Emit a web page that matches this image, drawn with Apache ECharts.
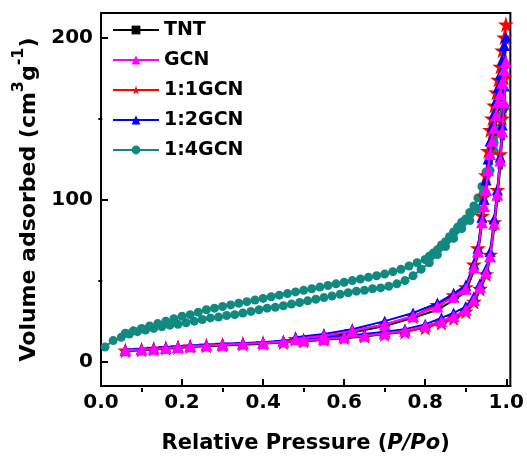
<!DOCTYPE html>
<html>
<head>
<meta charset="utf-8">
<script src="https://cdn.jsdelivr.net/npm/echarts@6/dist/echarts.min.js"></script>
<style>html,body{margin:0;padding:0;background:#fff}#c{width:527px;height:459px}</style>
</head>
<body>
<div id="c"></div>
<script>
// ---- data ----
var seriesNames = ['TNT', 'GCN', '1:1GCN', '1:2GCN', '1:4GCN'];
var xMajorTicks = [0, 0.2, 0.4, 0.6, 0.8, 1.0];
var xMinorTicks = [0.1, 0.3, 0.5, 0.7, 0.9];
var yMajorTicks = [0, 100, 200];
var yMinorTicks = [50, 150];

// adsorption / desorption relative pressures shared by the four low-uptake samples
var adsP = [0.06,0.10,0.13,0.16,0.19,0.22,0.26,0.30,0.35,0.40,0.45,0.50,0.55,0.60,0.65,0.70,0.75,0.80,0.84,0.87,0.90,0.92,0.935,0.95,0.96,0.97,0.978,0.985,0.99,0.995,0.999];
var desP = [0.995,0.99,0.985,0.98,0.975,0.97,0.965,0.96,0.955,0.95,0.945,0.94,0.93,0.92,0.90,0.87,0.83,0.77,0.70,0.62,0.55,0.48];

var tntAds = [6.5,7,7.5,8,8.5,9,9.5,10,10.5,11,12,12.5,13.5,14.5,15.5,17,18.5,21,24,27,30,36,44,53,63,82,100,120,138,155,182];
var tntDes = [178,170,162,156,149,141,133,125,115,104,94,84,66,56,43,38,32,27,22,18,15.5,13.5];
var gcnAds = [7,7.5,8,8.5,9,9.5,10,10.5,11,11.5,12.5,13,14,15,16,17.5,19,22,25,28,32,38,46,55,65,85,103,124,142,160,185];
var gcnDes = [180,172,165,160,152,144,136,128,118,106,96,86,68,58,45,40,34,28,23,19,16,14];
var g11Ads = [7,7.5,8,8.5,9,9.5,10,10.5,11,11.5,12,13,14,15,16,17,18.5,21,24,27,31,37,45,54,66,86,106,128,150,175,208];
var g11Des = [200,192,182,174,166,158,150,143,130,115,102,90,70,60,46,41,35,28,23,19,16,14];
var g12Ads = [7.5,8,8.5,9,9.5,10,10.5,11,11.5,12,13,14,15,16,17,18.5,20,23,27,30,34,40,48,57,68,88,106,126,146,170,200];
var g12Des = [195,186,177,169,161,153,145,136,125,112,100,89,70,60,47,42,36,30,25,20,17,15];

var g14AdsP = [0.01,0.03,0.05,0.07,0.09,0.11,0.13,0.15,0.17,0.19,0.21,0.23,0.25,0.27,0.29,0.31,0.33,0.35,0.37,0.39,0.41,0.43,0.45,0.47,0.49,0.51,0.53,0.55,0.57,0.59,0.61,0.63,0.65,0.67,0.69,0.71,0.73,0.75,0.77,0.79,0.81,0.83,0.85,0.87,0.89,0.91,0.93,0.945,0.96,0.97,0.98,0.99,0.997];
var g14Ads = [9,13,15,17,18.5,19.5,20.5,21.5,22.5,23,24,25,26,27,27.5,28.5,29,30,31,32,33,33.5,34.5,35.5,36.5,37.5,38.5,39.5,40.5,41.5,42.5,43.5,44,45,45.5,46.5,48,50,53,57,61,66,71,76,82,87,94,105,118,130,141,150,157];
var g14DesP = [0.99,0.98,0.97,0.96,0.95,0.94,0.93,0.92,0.91,0.90,0.89,0.88,0.87,0.86,0.85,0.84,0.83,0.82,0.81,0.80,0.78,0.76,0.74,0.72,0.70,0.68,0.66,0.64,0.62,0.60,0.58,0.56,0.54,0.52,0.50,0.48,0.46,0.44,0.42,0.40,0.38,0.36,0.34,0.32,0.30,0.28,0.26,0.24,0.22,0.20,0.18,0.16,0.14,0.12,0.10,0.08,0.06];
var g14Des = [152,144,135,126,117,108,101,96,92,88,86,83,80,77,74,72,69,67,65,63,61,59,57,55.5,54,53,52,51,50,49,48,47,46,45,44,43,42,41,40,39,38,37,36,35,34,33,32,30.5,29,28,26.5,25,23.5,22,20.5,19,17.5];

function loop(px, py, dx, dy) {
  var out = [];
  for (var i = 0; i < px.length; i++) out.push([px[i], py[i]]);
  for (var j = 0; j < dx.length; j++) out.push([dx[j], dy[j]]);
  return out;
}

var STAR = 'path://M50,0 L61,35 L98,35 L68,57 L79,91 L50,70 L21,91 L32,57 L2,35 L39,35 Z';
var FONT = 'DejaVu Sans';

function mk(name, color, symbol, size, data, z) {
  return {
    name: name, type: 'line', data: data, z: z,
    symbol: symbol, symbolSize: size, showSymbol: true,
    lineStyle: { color: color, width: 2 },
    itemStyle: { color: color, borderWidth: 0 },
    emphasis: { disabled: true },
    animation: false
  };
}

var chart = echarts.init(document.getElementById('c'), null, { renderer: 'canvas' });
chart.setOption({
  backgroundColor: '#fff',
  animation: false,
  grid: { left: 101, right: 14, top: 13, bottom: 67, show: true, borderColor: '#000', borderWidth: 2, backgroundColor: 'transparent' },
  legend: {
    data: seriesNames,
    orient: 'vertical', left: 112, top: 20, padding: 0,
    itemWidth: 46, itemHeight: 11, itemGap: 10,
    textStyle: { fontFamily: FONT, fontWeight: 'bold', fontSize: 19, color: '#000', lineHeight: 20 }
  },
  xAxis: [{
    type: 'value', min: 0, max: 1.01,
    axisLine: { show: true, onZero: false, lineStyle: { color: '#000', width: 2 } },
    axisTick: { show: true, inside: true, length: 7, lineStyle: { color: '#000', width: 2 }, customValues: xMajorTicks },
    axisLabel: { customValues: xMajorTicks, margin: 7, fontFamily: FONT, fontWeight: 'bold', fontSize: 20, color: '#000',
      formatter: function (v) { return v.toFixed(1); } },
    splitLine: { show: false },
    name: 'Relative Pressure ({i|P/Po})', nameLocation: 'middle', nameGap: 47,
    nameTextStyle: { fontFamily: FONT, fontWeight: 'bold', fontSize: 21, color: '#000',
      rich: { i: { fontFamily: FONT, fontWeight: 'bold', fontStyle: 'italic', fontSize: 21, color: '#000' } } }
  }, {
    type: 'value', min: 0, max: 1.01, position: 'top', offset: -379,
    axisLine: { show: false, onZero: false },
    axisTick: { show: true, inside: false, length: 4, lineStyle: { color: '#000', width: 2 }, customValues: xMinorTicks },
    axisLabel: { show: false }, splitLine: { show: false }
  }],
  yAxis: [{
    type: 'value', min: -15, max: 215,
    axisLine: { show: true, onZero: false, lineStyle: { color: '#000', width: 2 } },
    axisTick: { show: true, inside: true, length: 7, lineStyle: { color: '#000', width: 2 }, customValues: yMajorTicks },
    axisLabel: { customValues: yMajorTicks, margin: 8, fontFamily: FONT, fontWeight: 'bold', fontSize: 20, color: '#000' },
    splitLine: { show: false },
    name: '{a|Volume adsorbed (cm}{s|3}{a|g}{s|-1}{a|)}', nameLocation: 'middle', nameGap: 45,
    nameTextStyle: {
      rich: {
        a: { fontFamily: FONT, fontWeight: 'bold', fontSize: 22, color: '#000', lineHeight: 30, verticalAlign: 'bottom' },
        s: { fontFamily: FONT, fontWeight: 'bold', fontSize: 16, color: '#000', lineHeight: 30, verticalAlign: 'top' }
      }
    }
  }, {
    type: 'value', min: -15, max: 215, position: 'right', offset: -412,
    axisLine: { show: false, onZero: false },
    axisTick: { show: true, inside: false, length: 4, lineStyle: { color: '#000', width: 2 }, customValues: yMinorTicks },
    axisLabel: { show: false }, splitLine: { show: false }
  }],
  series: [
    mk('1:4GCN', '#108a80', 'circle', 9, loop(g14AdsP, g14Ads, g14DesP, g14Des), 1),
    mk('TNT', '#000000', 'rect', 5, loop(adsP, tntAds, desP, tntDes), 2),
    mk('1:1GCN', '#ff0000', STAR, 16, loop(adsP, g11Ads, desP, g11Des), 3),
    mk('1:2GCN', '#0000ff', 'triangle', 11, loop(adsP, g12Ads, desP, g12Des), 4),
    mk('GCN', '#ff00ff', 'triangle', 12, loop(adsP, gcnAds, desP, gcnDes), 5)
  ]
});
</script>
</body>
</html>
